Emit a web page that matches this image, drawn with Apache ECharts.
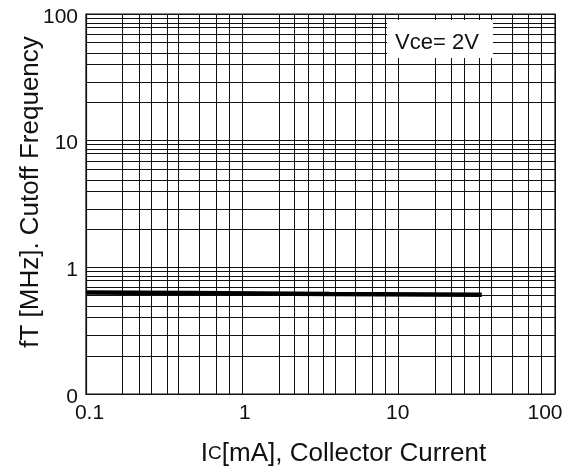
<!DOCTYPE html>
<html><head><meta charset="utf-8">
<script src="https://cdn.jsdelivr.net/npm/echarts@6/dist/echarts.min.js"></script>
<style>html,body{margin:0;padding:0;background:#fff}#c{width:567px;height:472px}</style>
</head><body><div id="c"></div>
<script>
// Data
const icValues = [0.1, 0.46, 3.6, 34];          // Ic [mA]
const ftValues = [0.632, 0.626, 0.615, 0.607];  // fT [MHz]

// Tick labels
const xTickLabels = ['0.1', '1', '10', '100'];
const yTickLabels = ['0', '1', '10', '100'];

// Grid line values (as drawn in the reference)
const xDecades = [0.1, 1, 10];
const xGridMultipliers = [1.72, 2.16, 2.63, 3.3, 3.93, 5.29, 6.75, 8.19, 10];
const yDecades = [0.1, 1, 10];
const yGridMultipliers = [2, 2.9, 4, 4.9, 6, 6.9, 7.9, 8.5, 9.3, 10];

const legendText = 'Vce= 2V';

const xGridValues = [];
xDecades.forEach(d => xGridMultipliers.forEach(m => xGridValues.push(+(d * m).toPrecision(4))));
const yGridValues = [];
yDecades.forEach(d => yGridMultipliers.forEach(m => yGridValues.push(+(d * m).toPrecision(4))));

const FONT = '"Liberation Sans", Arial, sans-serif';
const INK = '#111';

function decadeIndex(v) { return Math.round(Math.log10(v)) + 1; }

const xLabelRich = {
  a: {fontSize: 21, fontFamily: FONT, color: INK, padding: [0, 0, 0, 7]},
  b: {fontSize: 21, fontFamily: FONT, color: INK, padding: [0, 0, 0, 5]},
  c: {fontSize: 21, fontFamily: FONT, color: INK, padding: [0, 2, 0, 0]},
  d: {fontSize: 21, fontFamily: FONT, color: INK, padding: [0, 20, 0, 0]}
};
const xLabelKeys = ['a', 'b', 'c', 'd'];
const yLabelRich = {
  y: {fontSize: 21, fontFamily: FONT, color: INK, padding: [6, 0, 0, 0]}
};

const chart = echarts.init(document.getElementById('c'), null, {renderer: 'canvas'});
chart.setOption({
  animation: false,
  textStyle: {fontFamily: FONT},
  grid: {left: 86, right: 12, top: 14, bottom: 74, show: true, borderColor: INK, borderWidth: 1.2, backgroundColor: '#fff'},
  xAxis: {
    type: 'log', logBase: 10, min: 0.1, max: 100,
    axisLine: {show: true, onZero: false, lineStyle: {color: INK, width: 1.2}},
    axisTick: {show: false},
    splitLine: {show: false},
    axisLabel: {color: INK, fontSize: 21, margin: 9, fontFamily: FONT, rich: xLabelRich,
      formatter: v => {
        const i = decadeIndex(v);
        return xTickLabels[i] !== undefined ? '{' + xLabelKeys[i] + '|' + xTickLabels[i] + '}' : '';
      }},
    name: 'I{s|C}[mA], Collector Current',
    nameLocation: 'middle', nameGap: 47, nameMoveOverlap: false,
    nameTextStyle: {color: INK, fontSize: 26, fontFamily: FONT, padding: [0, 0, 0, 46],
      rich: {s: {fontSize: 19, fontFamily: FONT, color: INK}}}
  },
  yAxis: {
    type: 'log', logBase: 10, min: 0.1, max: 100,
    axisLine: {show: true, onZero: false, lineStyle: {color: INK, width: 1.2}},
    axisTick: {show: false},
    splitLine: {show: false},
    axisLabel: {color: INK, fontSize: 21, margin: 8, fontFamily: FONT, rich: yLabelRich,
      formatter: v => { const i = decadeIndex(v); return yTickLabels[i] !== undefined ? '{y|' + yTickLabels[i] + '}' : ''; }},
    name: 'fT [MHz]. Cutoff Frequency',
    nameLocation: 'middle', nameGap: 42, nameRotate: 90, nameMoveOverlap: false,
    nameTextStyle: {color: INK, fontSize: 26, fontFamily: FONT, padding: [0, 0, 0, 24]}
  },
  graphic: [
    {type: 'rect', z: 100, zlevel: 0, shape: {x: 387, y: 20, width: 106, height: 38}, style: {fill: '#fff'}},
    {type: 'text', z: 101, zlevel: 0, x: 437, y: 43, style: {text: legendText, fontSize: 22, fontFamily: FONT, fill: INK, align: 'center', verticalAlign: 'middle'}}
  ],
  series: [
    {
      type: 'line', z: 1, silent: true,
      data: [[0.1, 0.1]], showSymbol: false, symbol: 'none',
      lineStyle: {opacity: 0},
      markLine: {
        symbol: 'none', silent: true, animation: false,
        label: {show: false},
        emphasis: {disabled: true},
        lineStyle: {color: INK, width: 1, type: 'solid'},
        data: xGridValues.map(v => ({xAxis: v})).concat(yGridValues.map(v => ({yAxis: v})))
      }
    },
    {
      type: 'line', z: 5, silent: true,
      data: icValues.map((x, i) => [x, ftValues[i]]),
      symbol: 'none', showSymbol: false,
      lineStyle: {color: '#000', width: 4.5}
    }
  ]
});
</script></body></html>
